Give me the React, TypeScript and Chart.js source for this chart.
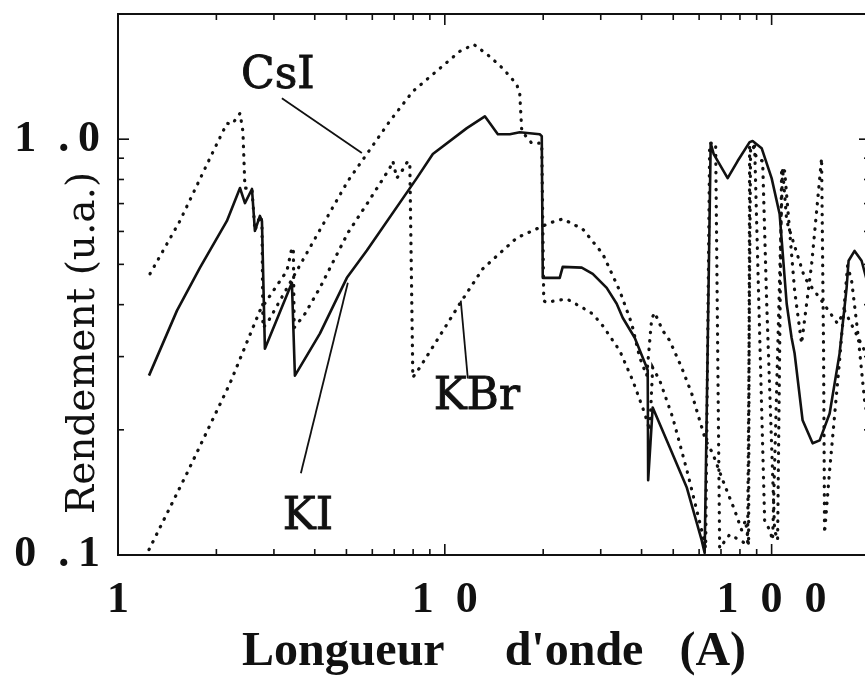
import React, { useEffect, useRef } from 'react';
import { Chart, registerables } from 'chart.js';

Chart.register(...registerables);

// ---- Data (wavelength in Å, yield in arbitrary units) ----
const kiX = [1.244, 1.515, 1.782, 2.154, 2.362, 2.446, 2.57, 2.624, 2.718, 2.757, 2.815, 3.405, 3.478, 4.147, 5.015, 5.773, 8.21, 9.19, 11.68, 13.26, 14.53, 15.81, 16.96, 19.52, 19.8, 19.94, 22.47, 22.95, 26.24, 28.36, 31.29, 33.57, 35.02, 38.11, 41.48, 41.77, 41.9, 43.26, 48.76, 54.96, 61.08, 62.39, 65.09, 66.5, 73.36, 78.7, 85.64, 87.47, 93.21, 100, 105.8, 111.2, 115.1, 117.6, 124.4, 133.5, 140.3, 150.5, 161.4, 169.6, 172.0, 179.4, 188.5, 199.4];
const kiY = [0.27, 0.387, 0.491, 0.636, 0.763, 0.702, 0.759, 0.602, 0.654, 0.636, 0.3135, 0.4516, 0.27, 0.3406, 0.464, 0.54, 0.806, 0.921, 1.063, 1.135, 1.028, 1.028, 1.039, 1.028, 1.017, 0.464, 0.464, 0.493, 0.491, 0.4745, 0.439, 0.402, 0.372, 0.333, 0.2824, 0.2778, 0.1513, 0.2264, 0.1816, 0.1456, 0.1086, 0.1011, 0.978, 0.921, 0.806, 0.886, 0.9836, 0.99, 0.9515, 0.806, 0.661, 0.402, 0.333, 0.305, 0.2108, 0.1856, 0.1887, 0.219, 0.305, 0.439, 0.51, 0.5386, 0.51, 0.432];

const csiX = [1.253, 1.547, 1.911, 2.154, 2.232, 2.328, 2.362, 2.411, 2.446, 2.57, 2.624, 2.718, 2.757, 2.776, 2.855, 4.147, 5.05, 5.773, 6.787, 7.983, 9.19, 11.11, 12.27, 13.72, 15.04, 16.6, 16.96, 17.2, 18.45, 19.8, 20.08, 20.38, 23.61, 26.42, 28.36, 30.42, 34.29, 37.58, 40.9, 42.36, 43.26, 45.45, 49.8, 55.35, 61.08, 62.83, 64.63, 67.41, 69.34, 74.41, 80.95, 84.43, 86.24, 88.72, 95.2, 98.6, 100.7, 108.0, 111.2, 126.2, 140.3, 159.2, 167.2, 179.4, 199.4];
const csiY = [0.4745, 0.636, 0.9, 1.092, 1.086, 1.135, 1.154, 1.045, 0.763, 0.759, 0.602, 0.654, 0.636, 0.352, 0.36, 0.605, 0.793, 0.921, 1.105, 1.303, 1.432, 1.626, 1.69, 1.581, 1.48, 1.355, 1.282, 1.045, 0.978, 0.978, 0.409, 0.405, 0.413, 0.393, 0.38, 0.356, 0.31, 0.263, 0.219, 0.1994, 0.2824, 0.263, 0.2143, 0.1573, 0.1148, 0.1039, 0.978, 0.978, 0.1039, 0.112, 0.108, 0.1057, 0.962, 0.962, 0.1213, 0.1148, 0.1086, 0.852, 0.636, 0.464, 0.415, 0.36, 0.387, 0.3465, 0.2935];

const kbrX = [1.244, 1.626, 2.2, 2.718, 3.288, 3.405, 3.44, 3.46, 3.731, 4.147, 5.05, 5.773, 6.787, 6.934, 7.132, 7.388, 7.707, 7.816, 7.983, 8.385, 9.453, 11.11, 13.07, 16.6, 20.95, 22.95, 26.42, 30.42, 34.29, 37.32, 39.48, 41.48, 42.95, 43.87, 46.42, 48.76, 53.05, 56.94, 60.23, 62.83, 66.01, 71.83, 77.09, 80.95, 83.25, 85.03, 85.64, 87.47, 89.98, 93.87, 96.54, 102.1, 104.3, 107.3, 109.6, 117.6, 123.5, 132.6, 142.2, 144.2, 145.2, 150.5, 161.4, 170.8, 175.7, 183.2, 192.5, 199.4];
const kbrY = [0.103, 0.1573, 0.2585, 0.387, 0.4826, 0.5478, 0.547, 0.352, 0.38, 0.439, 0.595, 0.698, 0.852, 0.886, 0.806, 0.838, 0.886, 0.871, 0.2673, 0.2824, 0.3279, 0.402, 0.488, 0.579, 0.629, 0.643, 0.608, 0.53, 0.432, 0.36, 0.2985, 0.27, 0.37, 0.3826, 0.3465, 0.3279, 0.2824, 0.2446, 0.2108, 0.1887, 0.1756, 0.1472, 0.1281, 0.1148, 0.1213, 0.1057, 0.962, 0.973, 0.9, 0.886, 0.409, 0.1148, 0.1086, 0.852, 0.838, 0.432, 0.3224, 0.501, 0.9, 0.31, 0.1129, 0.1599, 0.2935, 0.496, 0.4564, 0.3465, 0.2353, 0.1994];

// annotation labels and pointer lines (data coordinates)
const annotationLabels = ['CsI', 'KI', 'KBr'];
const annotationX = [3.085, 3.812, 12.53];
const annotationY = [1.416, 0.1227, 0.2392];
const pointerCsiX = [3.173, 5.574];
const pointerCsiY = [1.254, 0.926];
const pointerKiX = [3.627, 5.05];
const pointerKiY = [0.1573, 0.4516];
const pointerKbrX = [11.76, 11.19];
const pointerKbrY = [0.2657, 0.409];

// axes
const xMin = 1;
const xMax = 200;
const yMin = 0.1;
const yMax = 2;
const xMajor = [1, 10, 100];
const xMinor = [2, 3, 4, 5, 6, 7, 8, 9, 20, 30, 40, 50, 60, 70, 80, 90, 200];
const yMajor = [0.1, 1];
const yMinor = [0.2, 0.3, 0.4, 0.5, 0.6, 0.7, 0.8, 0.9, 2];
const xTickLabels = ['1', '1\u20020', '1\u20020\u20020'];
const yTickLabels = ['0\u2002.\u20091', '1\u2002.\u20090'];
const xTitle = "Longueur\u2003 d'onde\u2002 (A)";
const yTitle = 'Rendement (u.a.)\u2003\u2003\u2003';

const toPoints = (xs: number[], ys: number[]) => xs.map((x, i) => ({ x, y: ys[i] }));

const INK = '#111';

const framePlugin = {
  id: 'frameAndNotes',
  afterDatasetsDraw(chart: any) {
    const { ctx, chartArea: a, scales } = chart;
    const xs = scales.x;
    const ys = scales.y;
    ctx.save();
    ctx.strokeStyle = INK;
    ctx.lineWidth = 2;
    ctx.strokeRect(a.left, a.top, a.right - a.left, a.bottom - a.top);
    ctx.lineWidth = 1.6;
    const seg = (x1: number, y1: number, x2: number, y2: number) => {
      ctx.beginPath();
      ctx.moveTo(x1, y1);
      ctx.lineTo(x2, y2);
      ctx.stroke();
    };
    xMajor.forEach((v) => {
      const p = xs.getPixelForValue(v);
      seg(p, a.bottom, p, a.bottom - 11);
      seg(p, a.top, p, a.top + 11);
    });
    xMinor.forEach((v) => {
      const p = xs.getPixelForValue(v);
      seg(p, a.bottom, p, a.bottom - 6);
      seg(p, a.top, p, a.top + 6);
    });
    yMajor.forEach((v) => {
      const p = ys.getPixelForValue(v);
      seg(a.left, p, a.left + 11, p);
      seg(a.right, p, a.right - 11, p);
    });
    yMinor.forEach((v) => {
      const p = ys.getPixelForValue(v);
      seg(a.left, p, a.left + 6, p);
      seg(a.right, p, a.right - 6, p);
    });
    ctx.fillStyle = INK;
    ctx.font = '44px "DejaVu Serif"';
    ctx.textAlign = 'center';
    ctx.textBaseline = 'middle';
    ctx.lineWidth = 0.9;
    annotationLabels.forEach((t, i) => {
      const px = xs.getPixelForValue(annotationX[i]);
      const py = ys.getPixelForValue(annotationY[i]);
      ctx.fillText(t, px, py);
      ctx.strokeText(t, px, py);
    });
    ctx.restore();
  },
};

export default function App() {
  const ref = useRef<HTMLCanvasElement | null>(null);

  useEffect(() => {
    if (!ref.current) return;
    const dotted = {
      borderColor: INK,
      borderWidth: 3.2,
      borderDash: [0.5, 8],
      borderCapStyle: 'round' as const,
      pointRadius: 0,
      tension: 0,
      fill: false,
    };
    const pointer = {
      borderColor: INK,
      borderWidth: 1.8,
      pointRadius: 0,
      tension: 0,
      fill: false,
    };
    const chart = new Chart(ref.current, {
      type: 'line',
      data: {
        datasets: [
          { label: 'KBr', data: toPoints(kbrX, kbrY), ...dotted },
          { label: 'CsI', data: toPoints(csiX, csiY), ...dotted },
          {
            label: 'KI',
            data: toPoints(kiX, kiY),
            borderColor: INK,
            borderWidth: 2.6,
            borderJoinStyle: 'round',
            pointRadius: 0,
            tension: 0,
            fill: false,
          },
          { label: 'CsI pointer', data: toPoints(pointerCsiX, pointerCsiY), ...pointer },
          { label: 'KI pointer', data: toPoints(pointerKiX, pointerKiY), ...pointer },
          { label: 'KBr pointer', data: toPoints(pointerKbrX, pointerKbrY), ...pointer },
        ],
      },
      options: {
        animation: false,
        responsive: false,
        devicePixelRatio: 1,
        layout: { padding: { left: 0, right: 10, top: 14, bottom: 0 } },
        plugins: { legend: { display: false }, tooltip: { enabled: false } },
        scales: {
          x: {
            type: 'logarithmic',
            position: 'bottom',
            min: xMin,
            max: xMax,
            grid: { display: false, drawTicks: false },
            border: { display: false },
            ticks: {
              padding: 19,
              color: INK,
              autoSkip: false,
              maxRotation: 0,
              minRotation: 0,
              font: { family: '"Liberation Serif"', size: 44, weight: 'bold' },
              callback: (_v: any, i: number) => xTickLabels[i],
            },
            title: {
              display: true,
              text: xTitle,
              color: INK,
              font: { family: '"Liberation Serif"', size: 48, weight: 'bold', lineHeight: 1 },
              padding: { top: 0, bottom: 5 },
            },
            afterBuildTicks: (s: any) => {
              s.ticks = xMajor.map((v) => ({ value: v }));
            },
            afterFit: (s: any) => {
              s.height = 127;
              s.paddingLeft = 0;
              s.paddingRight = 0;
              s.paddingTop = 0;
              s.paddingBottom = 0;
            },
          },
          y: {
            type: 'logarithmic',
            position: 'left',
            min: yMin,
            max: yMax,
            grid: { display: false, drawTicks: false },
            border: { display: false },
            ticks: {
              padding: 18,
              color: INK,
              autoSkip: false,
              font: { family: '"Liberation Serif"', size: 44, weight: 'bold' },
              callback: (_v: any, i: number) => yTickLabels[i],
            },
            title: {
              display: true,
              text: yTitle,
              color: INK,
              font: { family: '"DejaVu Serif"', size: 39, lineHeight: 1 },
              padding: { top: 64, bottom: 0 },
            },
            afterBuildTicks: (s: any) => {
              s.ticks = yMajor.map((v) => ({ value: v }));
            },
            afterFit: (s: any) => {
              s.width = 118;
              s.paddingLeft = 0;
              s.paddingRight = 0;
              s.paddingTop = 0;
              s.paddingBottom = 0;
            },
          },
        },
      } as any,
      plugins: [framePlugin],
    });
    return () => chart.destroy();
  }, []);

  return (
    <div
      style={{
        position: 'fixed',
        left: 0,
        top: 0,
        width: 865,
        height: 682,
        overflow: 'hidden',
        background: '#fff',
      }}
    >
      <canvas ref={ref} width={880} height={682} style={{ display: 'block' }} />
    </div>
  );
}
